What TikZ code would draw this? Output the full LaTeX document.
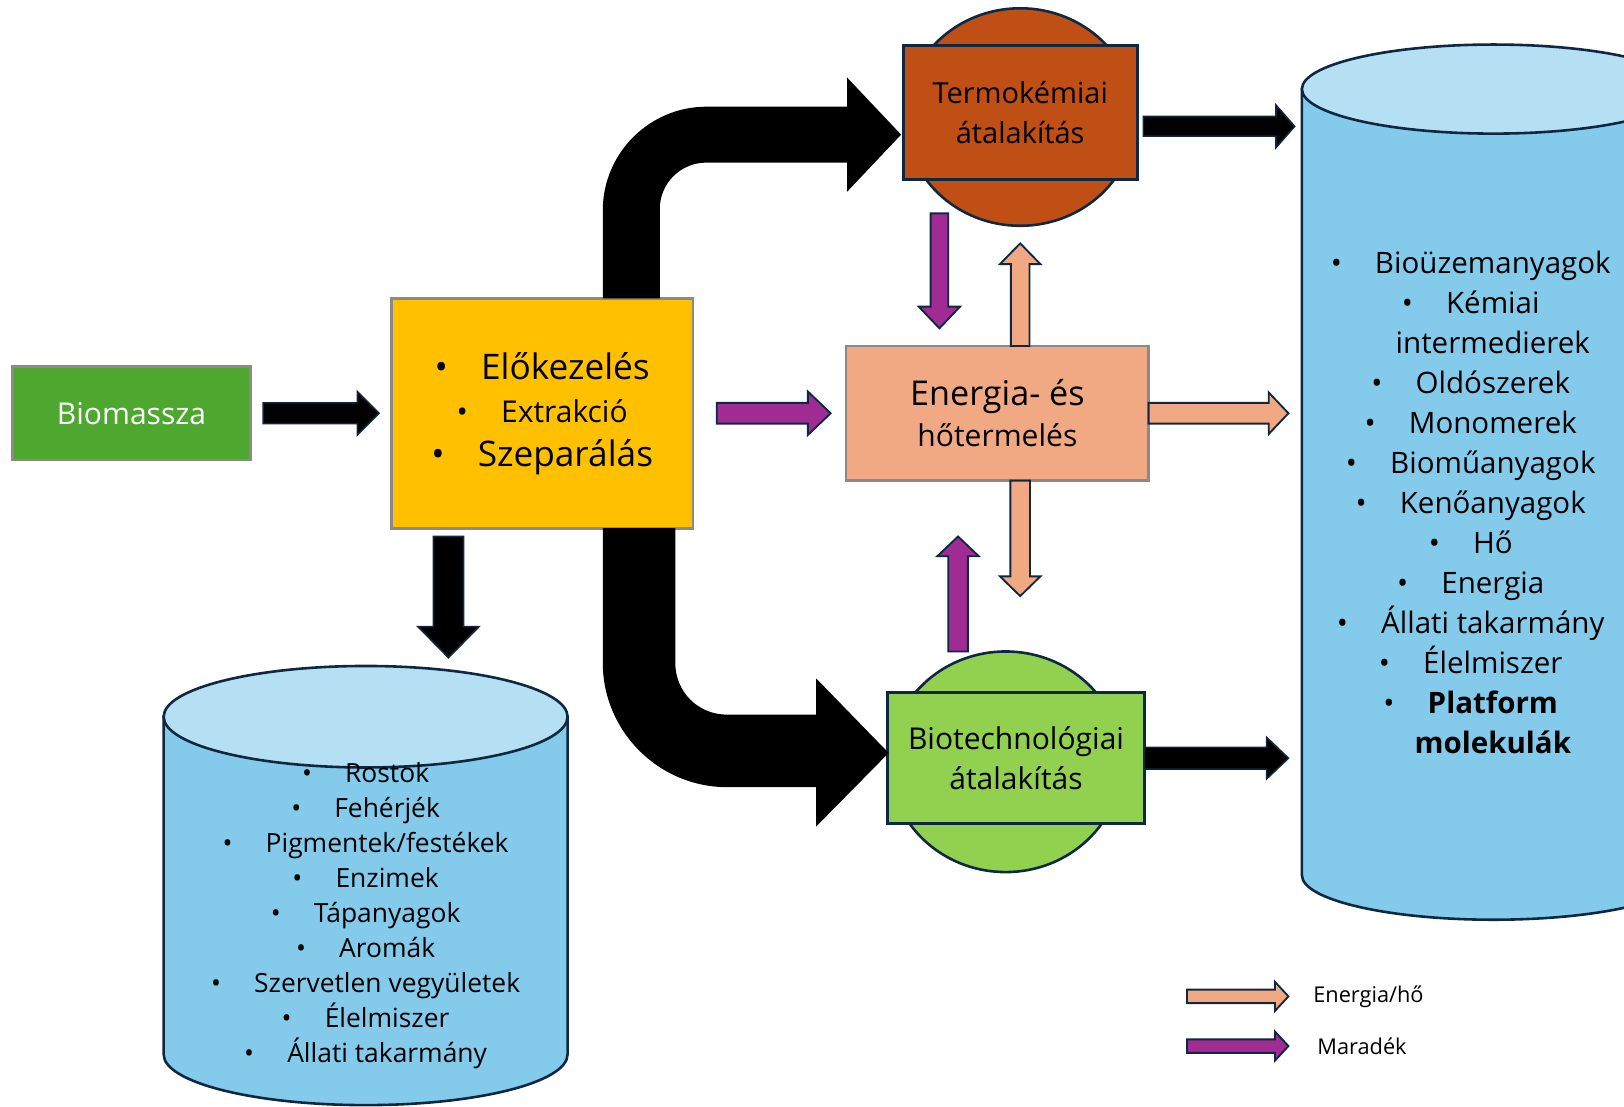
\documentclass[tikz,border=0pt]{standalone}
\usepackage{fontspec}
\setmainfont{Open Sans}
\usetikzlibrary{calc,shapes.geometric}

\definecolor{navy}{HTML}{0E2841}
\definecolor{boxgray}{HTML}{8A8A8A}
\definecolor{bmgreen}{HTML}{4EA72E}
\definecolor{preyellow}{HTML}{FFC000}
\definecolor{thorange}{HTML}{C04F15}
\definecolor{peach}{HTML}{F1A983}
\definecolor{biogreen}{HTML}{92D050}
\definecolor{cylblue}{HTML}{83CAEB}
\definecolor{cyltopblue}{HTML}{B5DFF2}
\definecolor{purp}{HTML}{A02B93}

\newcommand\fs[2]{\fontsize{#1}{#2}\selectfont}
\newcommand\bul{•\hspace{32pt}}

% block arrow: style, from, to, shaft width, head width, head length
\newcommand\blockarrow[6]{%
  \draw[#1] let \p1=(#2), \p2=(#3),
    \n1={atan2(\y2-\y1,\x2-\x1)}, \n2={veclen(\x2-\x1,\y2-\y1)} in
    [shift={(\x1,\y1)}, rotate=\n1]
    (0pt,-#4/2) -- ({\n2*1pt-#6},-#4/2) -- ({\n2*1pt-#6},-#5/2)
    -- ({\n2*1pt},0pt) -- ({\n2*1pt-#6},#5/2) -- ({\n2*1pt-#6},#4/2)
    -- (0pt,#4/2) -- cycle;}

\tikzset{
  every node/.style={inner sep=0pt, outer sep=0pt},
  graybox/.style={draw=boxgray, line width=2.5pt, rectangle},
  darkbox/.style={draw=navy, line width=2.8pt, rectangle},
  blk/.style={fill=black, draw=navy, line width=1.5pt, line join=miter},
  pur/.style={fill=purp, draw=navy, line width=1.8pt, line join=miter},
  pch/.style={fill=peach, draw=navy, line width=1.8pt, line join=miter},
  cylbody/.style={fill=cylblue, draw=navy, line width=2.5pt},
  cyltop/.style={fill=cyltopblue, draw=navy, line width=2.5pt},
  list/.style={align=center, text=black},
}

\begin{document}
\begin{tikzpicture}[x=1pt,y=-1pt]
\useasboundingbox (0,0) rectangle (1568,1068);
\fill[white] (0,0) rectangle (1568,1068);

% storage cylinders
\path[cylbody] (158,692) -- (158,1018)
  arc[start angle=180,end angle=360,x radius=195pt,y radius=49pt] -- (548,692) -- cycle;
\path[cyltop] (353,692) ellipse [x radius=195pt, y radius=49pt];

\path[cylbody] (1257,86) -- (1257,845)
  arc[start angle=180,end angle=360,x radius=185pt,y radius=43pt] -- (1627,86) -- cycle;
\path[cyltop] (1442,86) ellipse [x radius=185pt, y radius=43pt];

% main flow boxes
\node[graybox, fill=bmgreen, minimum width=230pt, minimum height=90pt,
      text=white, font=\fs{29}{35}] (biomass) at (127,399) {Biomassza};

\node[graybox, fill=preyellow, minimum width=291pt, minimum height=222pt,
      align=center, font=\fs{34}{42}] (pre) at (523.5,399)
  {\bul Előkezelés\\ {\fs{29}{42}\bul Extrakció}\\ \bul Szeparálás};

\node[ellipse, fill=thorange, draw=navy, line width=2.5pt,
      minimum width=222pt, minimum height=210pt] (thermoell) at (985,113) {};
\node[darkbox, fill=thorange, minimum width=226pt, minimum height=129pt,
      align=center, font=\fs{28}{39}] (thermo) at (985,108.5)
  {Termokémiai\\átalakítás};

\node[graybox, fill=peach, minimum width=292pt, minimum height=130pt,
      align=center, font=\fs{33}{40}] (energy) at (963,399)
  {Energia- és\\{\fs{29}{40}hőtermelés}};

\node[ellipse, fill=biogreen, draw=navy, line width=2.5pt,
      minimum width=224pt, minimum height=213pt] (bioell) at (971,735.5) {};
\node[darkbox, fill=biogreen, minimum width=248pt, minimum height=127pt,
      align=center, font=\fs{29}{38}] (biotech) at (981,732)
  {Biotechnológiai\\átalakítás};

% product lists
\node[list, font=\fs{25.5}{33.75}] (leftlist) at (353,884)
  {\bul Rostok\\ \bul Fehérjék\\ \bul Pigmentek/festékek\\ \bul Enzimek\\
   \bul Tápanyagok\\ \bul Aromák\\ \bul Szervetlen vegyületek\\
   \bul Élelmiszer\\ \bul Állati takarmány};

\node[list, font=\fs{28.5}{38.67}] (rightlist) at (1420,485)
  {\bul Bioüzemanyagok\\ \bul Kémiai\\ \phantom{\bul}intermedierek\\
   \bul Oldószerek\\ \bul Monomerek\\ \bul Bioműanyagok\\ \bul Kenőanyagok\\
   \bul Hő\\ \bul Energia\\ \bul Állati takarmány\\ \bul Élelmiszer\\
   \bul \textbf{Platform}\\ \phantom{\bul}\textbf{molekulák}};

% free ends on the cylinders
\coordinate (rin1) at (1250,122);
\coordinate (rin2) at (1244,399);
\coordinate (rin3) at (1244,732);
\coordinate (lin) at (433,635);

% broad curved feed arrows
\fill[black] ([xshift=204pt]pre.north west) -- (582,203)
  .. controls (582,148) and (627,103) .. (682,103) -- (818,103) -- (818,75)
  -- (870,130) -- (818,185) -- (818,157) -- (682,157)
  .. controls (657,157) and (637,177) .. (637,202) -- (637,288) -- cycle;
\fill[black] ([xshift=204pt]pre.south west) -- (582,640)
  .. controls (582,706) and (636,760) .. (702,760) -- (788,760) -- (788,798)
  -- (858,727) -- (788,655) -- (788,690) -- (702,690)
  .. controls (674,690) and (652,668) .. (652,640) -- (652,510) -- cycle;

% black product arrows
\blockarrow{blk}{[xshift=12pt]biomass.east}{[xshift=-12pt]pre.west}{20pt}{42pt}{21pt}
\blockarrow{blk}{[xshift=6pt,yshift=-13.5pt]thermo.east}{rin1}{19pt}{41pt}{18pt}
\blockarrow{blk}{biotech.east}{rin3}{21pt}{40pt}{21pt}
\blockarrow{blk}{[xshift=-90.5pt,yshift=-8pt]pre.south}{lin}{29pt}{59pt}{30pt}

% residue arrows
\blockarrow{pur}{[xshift=23pt]pre.east}{[xshift=-15pt]energy.west}{20pt}{42pt}{22pt}
\blockarrow{pur}{[xshift=-78pt,yshift=-33pt]thermo.south}{[xshift=-56pt,yshift=17pt]energy.north}{17pt}{40pt}{21pt}
\blockarrow{pur}{[xshift=-46pt]bioell.north}{[xshift=-38pt,yshift=-54pt]energy.south}{19pt}{40pt}{19pt}

% energy / heat arrows
\blockarrow{pch}{[xshift=22pt]energy.north}{[yshift=-62pt]thermo.south}{18pt}{39pt}{20pt}
\blockarrow{pch}{[xshift=22pt]energy.south}{[xshift=4pt,yshift=93pt]biotech.north}{19pt}{39pt}{19pt}
\blockarrow{pch}{energy.east}{rin2}{20pt}{40pt}{19pt}

% legend
\coordinate (lg1a) at (1146,962);
\coordinate (lg1b) at (1244,962);
\coordinate (lg2a) at (1146,1010);
\coordinate (lg2b) at (1244,1010);
\blockarrow{pch}{lg1a}{lg1b}{13pt}{28pt}{13pt}
\blockarrow{pur}{lg2a}{lg2b}{13pt}{28pt}{13pt}
\node[anchor=west, font=\fs{21}{25}] (lgtext1) at (1268,962) {Energia/hő};
\node[anchor=west, font=\fs{21}{25}] (lgtext2) at (1272,1010) {Maradék};
\end{tikzpicture}
\end{document}
